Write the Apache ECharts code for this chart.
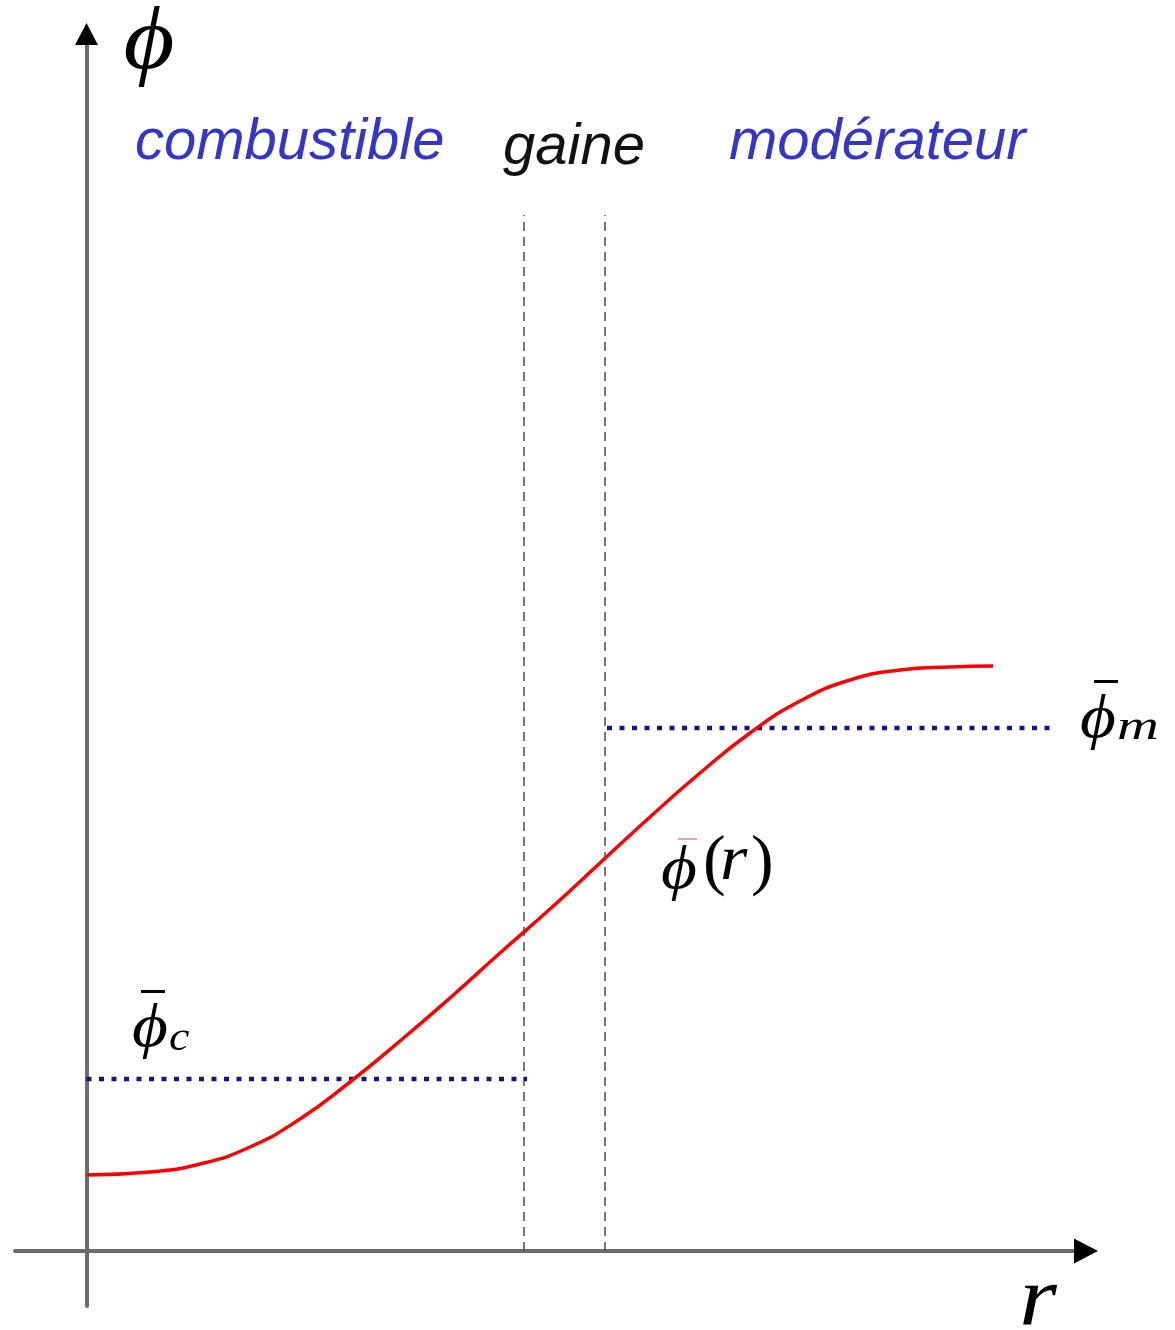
<!DOCTYPE html>
<html>
<head>
<meta charset="utf-8">
<script src="https://cdn.jsdelivr.net/npm/echarts@6/dist/echarts.min.js"></script>
<style>
  html, body { margin: 0; padding: 0; background: #ffffff; }
  #chart { width: 1175px; height: 1330px; }
</style>
</head>
<body>
<div id="chart"></div>
<script>
// Radial flux profile phi(r) across fuel, cladding and moderator
const rValues   = [0, 0.635, 1.135, 1.635, 2.135, 2.635, 3.135, 3.635, 4.135, 4.635,
                   5.135, 5.635, 6.135, 6.635, 7.135, 7.635, 8.135, 8.635, 9.065];
const phiValues = [0.76, 0.79, 0.87, 1.04, 1.32, 1.69, 2.10, 2.53, 2.98, 3.42,
                   3.88, 4.34, 4.78, 5.18, 5.50, 5.71, 5.81, 5.84, 5.85];

// Region boundaries (fuel/cladding, cladding/moderator) and their drawn height
const interfaceR   = [4.375, 5.185];
const interfaceTop = 10.36;

// Mean flux in the fuel and in the moderator, with the span each is drawn over
const fuelSpan      = [0, 4.405];
const phiFuelMean   = 1.72;
const moderatorSpan = [5.205, 9.655];
const phiModMean    = 5.23;

// Axis extents
const rRange   = [-0.715, 9.995];
const phiRange = [-0.55, 12.17];

const regionNames = ['combustible', 'gaine', 'modérateur'];

const chart = echarts.init(document.getElementById('chart'), null, { renderer: 'canvas' });

const bare = {
  axisTick: { show: false },
  axisLabel: { show: false },
  splitLine: { show: false }
};

function valueAxis(range, lineStyle, arrow, z) {
  return Object.assign({
    type: 'value',
    min: range[0],
    max: range[1],
    z: z,
    axisLine: {
      show: true,
      onZero: true,
      symbol: arrow ? ['none', 'triangle'] : ['none', 'none'],
      symbolSize: arrow || [10, 10],
      lineStyle: lineStyle
    }
  }, bare);
}

// gray shaft, plus a second axis that only carries the black arrowhead
const axisGray  = { color: '#6c6c6c', width: 4 };
const arrowOnly = { color: '#000000', width: 0 };

function serif(size, italic) {
  return (italic === false ? '' : 'italic ') + '400 ' + size + "px 'Liberation Serif', 'DejaVu Serif', serif";
}

function txt(text, x, y, size, opts, sx, italic) {
  return {
    type: 'text',
    x: x, y: y,
    scaleX: sx || 1,
    silent: true,
    z: 10,
    style: Object.assign({
      text: text,
      font: serif(size, italic),
      fill: '#000000',
      textAlign: 'left',
      verticalAlign: 'middle'
    }, opts || {})
  };
}

function bar(x, y, w, h, color) {
  return { type: 'rect', silent: true, z: 10,
           shape: { x: x, y: y, width: w, height: h },
           style: { fill: color || '#000000' } };
}

const sansItalic = "italic 400 58px 'Liberation Sans', Arial, sans-serif";
const dotted = { color: '#14148a', width: 4.5, type: [5, 7.5], cap: 'butt' };

chart.setOption({
  animation: false,
  backgroundColor: '#ffffff',
  grid: { left: 15, right: 89, top: 34, bottom: 24, containLabel: false },
  xAxis: [
    valueAxis(rRange, axisGray, null, 1),
    valueAxis(rRange, arrowOnly, [25, 24], 2)
  ],
  yAxis: [
    valueAxis(phiRange, axisGray, null, 1),
    valueAxis(phiRange, arrowOnly, [23, 22], 2)
  ],
  series: [
    {
      name: 'phi(r)',
      type: 'line',
      data: rValues.map((r, i) => [r, phiValues[i]]),
      smooth: 0.5,
      symbol: 'none',
      lineStyle: { color: '#ff0000', width: 3.5 },
      z: 5
    },
    {
      name: 'phi_c',
      type: 'line',
      data: fuelSpan.map(r => [r, phiFuelMean]),
      symbol: 'none',
      lineStyle: dotted,
      z: 4
    },
    {
      name: 'phi_m',
      type: 'line',
      data: moderatorSpan.map(r => [r, phiModMean]),
      symbol: 'none',
      lineStyle: dotted,
      z: 4
    }
  ].concat(interfaceR.map((r, i) => ({
      name: 'interface' + i,
      type: 'line',
      data: [[r, 0], [r, interfaceTop]],
      symbol: 'none',
      lineStyle: { color: '#4a4a4a', width: 1.5, type: [9, 6] },
      z: 3
  }))),
  graphic: [
    // region names
    { type: 'text', x: 135, y: 143, silent: true,
      style: { text: regionNames[0], font: sansItalic, fill: '#3535c8', verticalAlign: 'middle' } },
    { type: 'text', x: 503, y: 148, silent: true,
      style: { text: regionNames[1], font: sansItalic, fill: '#111111', verticalAlign: 'middle' } },
    { type: 'text', x: 729, y: 143, silent: true,
      style: { text: regionNames[2], font: sansItalic, fill: '#3535c8', verticalAlign: 'middle' } },

    // axis titles
    txt('\u03D5', 149, 45, 88, { textAlign: 'center' }, 1.12),
    txt('r', 1038, 1303, 84, { textAlign: 'center' }, 1.15),

    // mean flux in the moderator
    bar(1094, 680, 24, 3),
    txt('\u03D5', 1098, 721, 62, { textAlign: 'center' }, 1.12),
    txt('m', 1117, 728, 40, null, 1.45),

    // local flux
    bar(678, 838, 19, 2, '#f2a0a0'),
    txt('\u03D5', 679, 872, 62, { textAlign: 'center' }, 1.12),
    txt('(', 703, 864, 68, null, 1, false),
    txt('r', 720, 862, 64, null, 1.1),
    txt(')', 751, 864, 68, null, 1, false),

    // mean flux in the fuel
    bar(141, 990, 24, 3),
    txt('\u03D5', 150, 1030, 62, { textAlign: 'center' }, 1.12),
    txt('c', 169, 1039, 40, null, 1.15)
  ]
});
</script>
</body>
</html>
